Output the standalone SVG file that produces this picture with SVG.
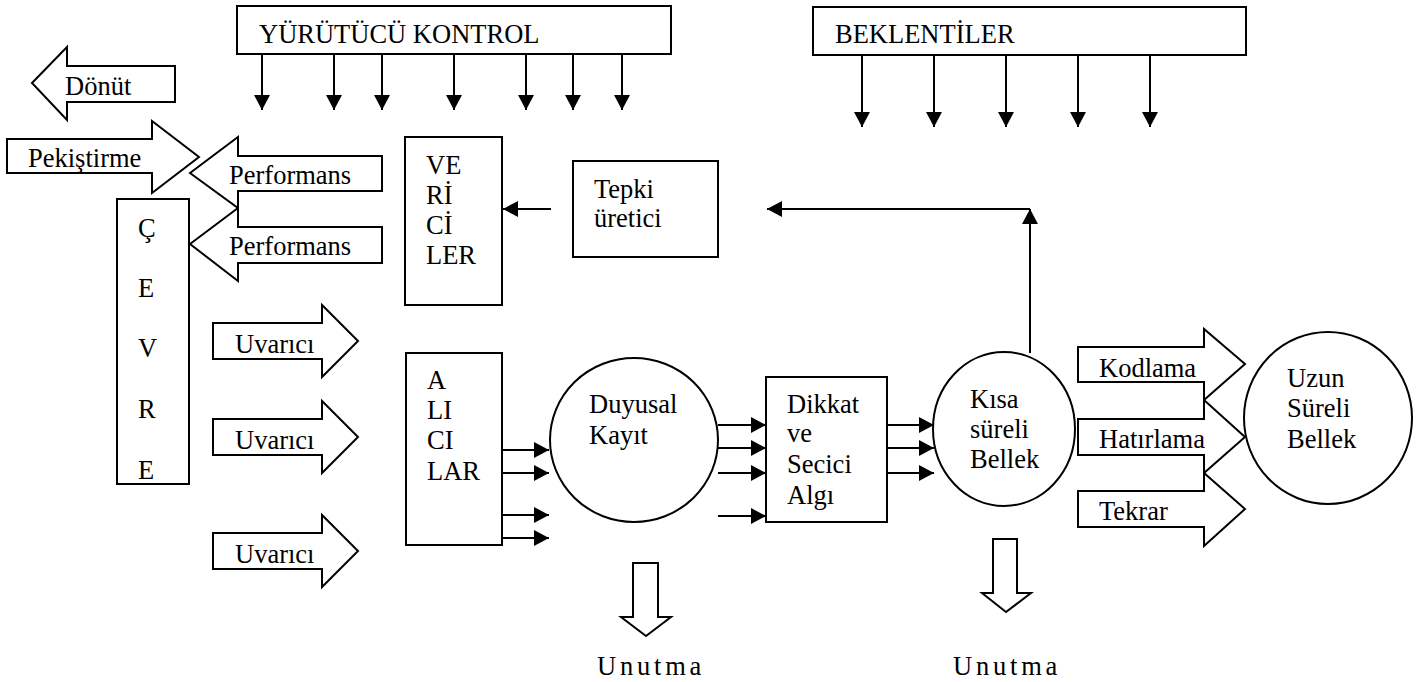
<svg xmlns="http://www.w3.org/2000/svg" width="1428" height="682" viewBox="0 0 1428 682">
  <style>
    text { font-family: "Liberation Serif", "Times New Roman", serif; font-size: 26.5px; fill: #000; }
    .box { fill: #fff; stroke: #000; stroke-width: 2; }
    .blk { fill: #fff; stroke: #000; stroke-width: 2; stroke-linejoin: miter; }
    .ln { fill: none; stroke: #000; stroke-width: 2; marker-end: url(#tri); }
    .sp { font-size: 26.5px; letter-spacing: 3.8px; }
  </style>
  <defs>
    <marker id="tri" markerUnits="userSpaceOnUse" markerWidth="16" markerHeight="16" refX="15" refY="8" orient="auto">
      <path d="M0,0 L15,8 L0,16 z" fill="#000"/>
    </marker>
  </defs>
  <rect width="1428" height="682" fill="#fff"/>

  <!-- connectors -->
  <g id="connectors">
    <!-- executive control outputs -->
    <line class="ln" x1="262" y1="54" x2="262" y2="110"/>
    <line class="ln" x1="334" y1="54" x2="334" y2="110"/>
    <line class="ln" x1="382" y1="54" x2="382" y2="110"/>
    <line class="ln" x1="454" y1="54" x2="454" y2="110"/>
    <line class="ln" x1="526" y1="54" x2="526" y2="110"/>
    <line class="ln" x1="573" y1="54" x2="573" y2="110"/>
    <line class="ln" x1="622" y1="54" x2="622" y2="110"/>
    <!-- expectations outputs -->
    <line class="ln" x1="862" y1="55" x2="862" y2="127"/>
    <line class="ln" x1="934" y1="55" x2="934" y2="127"/>
    <line class="ln" x1="1006" y1="55" x2="1006" y2="127"/>
    <line class="ln" x1="1078" y1="55" x2="1078" y2="127"/>
    <line class="ln" x1="1150" y1="55" x2="1150" y2="127"/>
    <!-- response generator to effectors -->
    <line class="ln" x1="551" y1="209" x2="503" y2="209"/>
    <!-- short-term memory feedback -->
    <line class="ln" x1="1030" y1="353" x2="1030" y2="209"/>
    <line class="ln" x1="1030" y1="209" x2="767" y2="209"/>
    <!-- receptors to sensory register -->
    <line class="ln" x1="502" y1="450" x2="549" y2="450"/>
    <line class="ln" x1="502" y1="473" x2="549" y2="473"/>
    <line class="ln" x1="502" y1="515" x2="549" y2="515"/>
    <line class="ln" x1="502" y1="538" x2="549" y2="538"/>
    <!-- sensory register to attention -->
    <line class="ln" x1="718" y1="425" x2="766" y2="425"/>
    <line class="ln" x1="718" y1="448" x2="766" y2="448"/>
    <line class="ln" x1="718" y1="473" x2="766" y2="473"/>
    <line class="ln" x1="718" y1="516" x2="766" y2="516"/>
    <!-- attention to short-term memory -->
    <line class="ln" x1="887" y1="425" x2="934" y2="425"/>
    <line class="ln" x1="887" y1="448" x2="934" y2="448"/>
    <line class="ln" x1="887" y1="473" x2="934" y2="473"/>
  </g>

  <!-- top control bars -->
  <g id="yurutucu">
    <rect class="box" x="237" y="6" width="434" height="48"/>
    <text x="259" y="43">YÜRÜTÜCÜ KONTROL</text>
  </g>
  <g id="beklentiler">
    <rect class="box" x="813" y="7" width="433" height="48"/>
    <text x="835" y="43">BEKLENTİLER</text>
  </g>

  <!-- block arrows on the left -->
  <g id="donut">
    <polygon class="blk" points="32,83 67,47 67,66 175,66 175,102 67,102 67,120"/>
    <text x="65" y="95">Dönüt</text>
  </g>
  <g id="pekistirme">
    <polygon class="blk" points="7,139 152,139 152,121 199,157 152,193 152,173 7,173"/>
    <text x="28" y="167">Pekiştirme</text>
  </g>
  <g id="performans1">
    <polygon class="blk" points="190,173 238,137 238,156 382,156 382,191 238,191 238,208"/>
    <text x="229" y="184">Performans</text>
  </g>
  <g id="performans2">
    <polygon class="blk" points="190,244 238,208 238,227 382,227 382,263 238,263 238,281"/>
    <text x="229" y="255">Performans</text>
  </g>

  <g id="cevre">
    <rect class="box" x="117" y="199" width="72" height="285"/>
    <text x="138" y="237">Ç</text>
    <text x="138" y="297">E</text>
    <text x="138" y="357">V</text>
    <text x="138" y="418">R</text>
    <text x="138" y="479">E</text>
  </g>

  <g id="uvarici1">
    <polygon class="blk" points="213,323 322,323 322,305 358,341 322,377 322,359 213,359"/>
    <text x="235" y="353">Uvarıcı</text>
  </g>
  <g id="uvarici2">
    <polygon class="blk" points="213,419 322,419 322,401 358,437 322,473 322,455 213,455"/>
    <text x="235" y="449">Uvarıcı</text>
  </g>
  <g id="uvarici3">
    <polygon class="blk" points="213,533 322,533 322,515 358,551 322,587 322,569 213,569"/>
    <text x="235" y="563">Uvarıcı</text>
  </g>

  <g id="vericiler">
    <rect class="box" x="405" y="137" width="97" height="168"/>
    <text x="426" y="174">VE</text>
    <text x="426" y="204">Rİ</text>
    <text x="426" y="234">Cİ</text>
    <text x="426" y="264">LER</text>
  </g>

  <g id="tepki">
    <rect class="box" x="573" y="161" width="145" height="96"/>
    <text x="594" y="198">Tepki</text>
    <text x="594" y="227">üretici</text>
  </g>

  <g id="alicilar">
    <rect class="box" x="406" y="353" width="96" height="192"/>
    <text x="427" y="389">A</text>
    <text x="427" y="419">LI</text>
    <text x="427" y="449">CI</text>
    <text x="427" y="480">LAR</text>
  </g>

  <g id="duyusal">
    <ellipse class="box" cx="634" cy="440" rx="84" ry="82"/>
    <text x="589" y="413">Duyusal</text>
    <text x="589" y="444">Kayıt</text>
  </g>

  <g id="dikkat">
    <rect class="box" x="766" y="377" width="121" height="145"/>
    <text x="787" y="413">Dikkat</text>
    <text x="787" y="442">ve</text>
    <text x="787" y="473">Secici</text>
    <text x="787" y="504">Algı</text>
  </g>

  <!-- memory transfer arrows -->
  <g id="kodlama">
    <polygon class="blk" points="1078,347 1204,347 1204,329 1245,364 1204,400 1204,382 1078,382"/>
    <text x="1099" y="377">Kodlama</text>
  </g>
  <g id="hatirlama">
    <polygon class="blk" points="1078,419 1204,419 1204,400 1245,437 1204,473 1204,455 1078,455"/>
    <text x="1099" y="448">Hatırlama</text>
  </g>
  <g id="tekrar">
    <polygon class="blk" points="1078,491 1204,491 1204,473 1245,509 1204,546 1204,527 1078,527"/>
    <text x="1099" y="520">Tekrar</text>
  </g>

  <g id="kisa">
    <ellipse class="box" cx="1004" cy="429" rx="71" ry="77"/>
    <text x="970" y="408">Kısa</text>
    <text x="970" y="438">süreli</text>
    <text x="970" y="468">Bellek</text>
  </g>

  <g id="uzun">
    <ellipse class="box" cx="1328" cy="418" rx="84" ry="86"/>
    <text x="1287" y="387">Uzun</text>
    <text x="1287" y="417">Süreli</text>
    <text x="1287" y="448">Bellek</text>
  </g>

  <!-- forgetting -->
  <g id="unutma1">
    <polygon class="blk" points="633,563 658,563 658,617 671,617 646,636 621,617 633,617"/>
    <text class="sp" x="597" y="675">Unutma</text>
  </g>
  <g id="unutma2">
    <polygon class="blk" points="993,539 1017,539 1017,593 1031,593 1006,612 982,593 993,593"/>
    <text class="sp" x="953" y="675">Unutma</text>
  </g>
</svg>
